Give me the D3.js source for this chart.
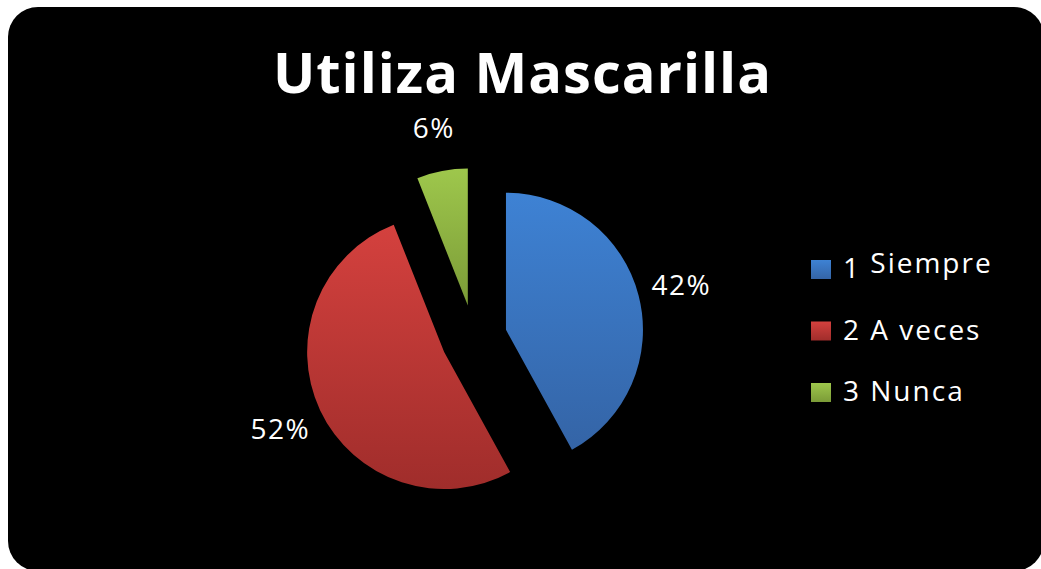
<!DOCTYPE html>
<html>
<head>
<meta charset="utf-8">
<script src="https://cdn.jsdelivr.net/npm/d3@7"></script>
<style>
  body { margin: 0; background: #fff; }
  svg { display: block; }
</style>
</head>
<body>
<div id="chart"></div>
<script>
// data
var categories = ["1 Siempre", "2 A veces", "3 Nunca"];
var values = [42, 52, 6];
var title = "Utiliza Mascarilla";

var width = 1041, height = 569;
var colTop = ["#3e82d4", "#d4413e", "#9ec74c"];
var colBottom = ["#3464a6", "#a02d2b", "#7b9b37"];

var svg = d3.select("#chart")
  .append("svg")
    .attr("width", width)
    .attr("height", height);

// background panel
svg.append("rect")
  .attr("x", 8).attr("y", 7)
  .attr("width", 1036).attr("height", 564)
  .attr("rx", 30).attr("ry", 30)
  .attr("fill", "#000");

// gradients for slices + legend
var defs = svg.append("defs");
categories.forEach(function(c, i) {
  var g = defs.append("linearGradient")
    .attr("id", "grad" + i)
    .attr("x1", 0).attr("y1", 0).attr("x2", 0).attr("y2", 1);
  g.append("stop").attr("offset", "0%").attr("stop-color", colTop[i]);
  g.append("stop").attr("offset", "100%").attr("stop-color", colBottom[i]);
});

// title
svg.append("text")
  .attr("x", 522).attr("y", 93)
  .attr("text-anchor", "middle")
  .attr("font-family", "Open Sans")
  .attr("font-weight", "bold")
  .attr("font-size", 56)
  .attr("fill", "#fff")
  .attr("textLength", 498)
  .attr("lengthAdjust", "spacing")
  .text(title);

///////////////////////////////////////// Pie
var cx = 474, cy = 338, radius = 137, explode = 33, labelR = 214;

var pie = d3.pie().sort(null)(values);
var arc = d3.arc().innerRadius(0).outerRadius(radius);

var g = svg.append("g")
  .attr("transform", "translate(" + cx + "," + cy + ")");

g.selectAll("path")
  .data(pie)
  .enter()
  .append("path")
    .attr("d", arc)
    .attr("fill", function(d, i) { return "url(#grad" + i + ")"; })
    .attr("transform", function(d) {
      var a = (d.startAngle + d.endAngle) / 2;
      return "translate(" + (Math.sin(a) * explode) + "," + (-Math.cos(a) * explode) + ")";
    });

// percent labels
var total = d3.sum(values);
g.selectAll("text.pct")
  .data(pie)
  .enter()
  .append("text")
    .attr("class", "pct")
    .attr("x", function(d) { return Math.sin((d.startAngle + d.endAngle) / 2) * labelR; })
    .attr("y", function(d) { return -Math.cos((d.startAngle + d.endAngle) / 2) * labelR; })
    .attr("dy", "0.36em")
    .attr("text-anchor", "middle")
    .attr("font-family", "Open Sans")
    .attr("font-size", 28)
    .attr("letter-spacing", 1.5)
    .attr("fill", "#fff")
    .text(function(d) { return Math.round(d.value / total * 100) + "%"; });

///////////////////////////////////////// Legend
var legend = svg.append("g")
  .attr("transform", "translate(811,260)");

var row = legend.selectAll("g")
  .data(categories)
  .enter()
  .append("g")
    .attr("transform", function(d, i) { return "translate(0," + (i * 61.5) + ")"; });

row.append("rect")
  .attr("width", 20).attr("height", 19)
  .attr("fill", function(d, i) { return "url(#grad" + i + ")"; });

row.append("text")
  .attr("x", 32).attr("y", 18)
  .attr("font-family", "Open Sans")
  .attr("font-size", 28)
  .attr("letter-spacing", 2)
  .attr("fill", "#fff")
  .each(function(d, i) {
    var t = d3.select(this);
    var parts = d.split(" ");
    t.append("tspan").text(parts[0]);
    // first entry's label sits a little higher, as in the original
    t.append("tspan")
      .attr("dy", i === 0 ? -5 : 0)
      .text(" " + parts.slice(1).join(" "));
  });
</script>
</body>
</html>
